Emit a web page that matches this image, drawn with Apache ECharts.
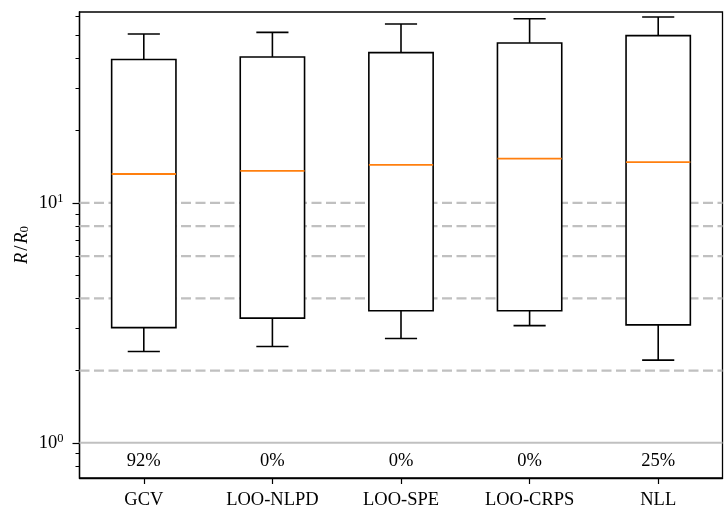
<!DOCTYPE html>
<html>
<head>
<meta charset="utf-8">
<script src="https://cdn.jsdelivr.net/npm/echarts@6/dist/echarts.min.js"></script>
<style>html,body{margin:0;padding:0;background:#fff}#c{width:724px;height:510px}</style>
</head>
<body>
<div id="c"></div>
<script>
const categories = ['GCV', 'LOO-NLPD', 'LOO-SPE', 'LOO-CRPS', 'NLL'];
const whiskerLow = [2.40, 2.52, 2.72, 3.08, 2.21];
const q1 = [3.02, 3.31, 3.55, 3.55, 3.10];
const medians = [13.2, 13.6, 14.4, 15.3, 14.8];
const q3 = [39.6, 40.6, 42.3, 46.4, 49.8];
const whiskerHigh = [50.6, 51.4, 55.7, 58.6, 59.6];
const percentLabels = ['92%', '0%', '0%', '0%', '25%'];
const dashedRefs = [2, 4, 6, 8, 10];
const solidRefs = [1];
const majorTicks = [1, 10];
const minorTicks = [0.8, 0.9, 2, 3, 4, 5, 6, 7, 8, 9, 20, 30, 40, 50, 60];

const FONT = "'Liberation Serif', 'DejaVu Serif', serif";
const FS = 18.5;
const Y_MIN = 0.713, Y_MAX = 62.5;
const LABEL_Y = 0.835;

const chart = echarts.init(document.getElementById('c'), null, {renderer: 'canvas'});

function refLine(color, dash) {
  return function (params, api) {
    const y = api.coord([0, api.value(1)])[1];
    const cs = params.coordSys;
    return {
      type: 'line',
      shape: {x1: cs.x, y1: y, x2: cs.x + cs.width, y2: y},
      style: {stroke: color, lineWidth: 2.2, lineDash: dash}
    };
  };
}

const option = {
  animation: false,
  backgroundColor: '#fff',
  grid: {left: 79.5, right: 1.5, top: 12, bottom: 31, show: true, borderColor: '#000', borderWidth: 1.3, backgroundColor: 'transparent'},
  xAxis: {
    type: 'category',
    data: categories,
    axisLine: {show: true, lineStyle: {color: '#000', width: 1.3}},
    axisTick: {show: true, alignWithLabel: true, length: 6, lineStyle: {color: '#000', width: 1.2}},
    axisLabel: {color: '#000', fontFamily: FONT, fontSize: FS, margin: 13},
    splitLine: {show: false}
  },
  yAxis: [
    {
      type: 'log', logBase: 10, min: Y_MIN, max: Y_MAX,
      name: '{i|R}{n|/}{i|R}{sub|0}',
      nameLocation: 'middle', nameGap: 48, nameMoveOverlap: false,
      nameTextStyle: {
        color: '#000', fontFamily: FONT, fontSize: FS,
        rich: {
          i: {fontFamily: FONT, fontSize: FS, fontStyle: 'italic', color: '#000'},
          n: {fontFamily: FONT, fontSize: FS, color: '#000', padding: [0, 2, 0, 2]},
          sub: {fontFamily: FONT, fontSize: 13, color: '#000', verticalAlign: 'bottom', padding: [6, 0, 0, 0]}
        }
      },
      axisLine: {show: true, lineStyle: {color: '#000', width: 1.3}},
      axisTick: {show: true, length: 7, customValues: majorTicks, lineStyle: {color: '#000', width: 1.2}},
      axisLabel: {
        customValues: majorTicks,
        margin: 16,
        formatter: function (v) { return '{b|10}{s|' + Math.round(Math.log10(v)) + '}'; },
        rich: {
          b: {fontFamily: FONT, fontSize: FS, color: '#000', lineHeight: 22},
          s: {fontFamily: FONT, fontSize: 12.5, color: '#000', verticalAlign: 'top', lineHeight: 12}
        }
      },
      splitLine: {show: false}
    },
    {
      type: 'log', logBase: 10, min: Y_MIN, max: Y_MAX, position: 'left',
      axisLine: {show: false},
      axisTick: {show: true, length: 4, customValues: minorTicks, lineStyle: {color: '#000', width: 1}},
      axisLabel: {show: false},
      splitLine: {show: false}
    }
  ],
  series: [
    {
      type: 'custom', z: 1, silent: true,
      data: dashedRefs.map(v => [0, v]),
      encode: {x: 0, y: 1},
      renderItem: refLine('#c0c0c0', [10, 4.5])
    },
    {
      type: 'custom', z: 1, silent: true,
      data: solidRefs.map(v => [0, v]),
      encode: {x: 0, y: 1},
      renderItem: refLine('#c0c0c0', null)
    },
    {
      type: 'custom', z: 3, silent: true,
      data: categories.map((c, i) => [i, whiskerLow[i], q1[i], medians[i], q3[i], whiskerHigh[i]]),
      encode: {x: 0, y: [1, 2, 3, 4, 5]},
      renderItem: function (params, api) {
        const i = api.value(0);
        const bw = params.coordSys.width / categories.length * 0.5;
        const cx = api.coord([i, 1])[0];
        const yLo = api.coord([i, api.value(1)])[1];
        const yQ1 = api.coord([i, api.value(2)])[1];
        const yMed = api.coord([i, api.value(3)])[1];
        const yQ3 = api.coord([i, api.value(4)])[1];
        const yHi = api.coord([i, api.value(5)])[1];
        const ls = {stroke: '#000', lineWidth: 1.6};
        return {
          type: 'group',
          children: [
            {type: 'line', shape: {x1: cx, y1: yQ1, x2: cx, y2: yLo}, style: ls},
            {type: 'line', shape: {x1: cx - bw / 4, y1: yLo, x2: cx + bw / 4, y2: yLo}, style: ls},
            {type: 'line', shape: {x1: cx, y1: yQ3, x2: cx, y2: yHi}, style: ls},
            {type: 'line', shape: {x1: cx - bw / 4, y1: yHi, x2: cx + bw / 4, y2: yHi}, style: ls},
            {type: 'rect', shape: {x: cx - bw / 2, y: yQ3, width: bw, height: yQ1 - yQ3}, style: {fill: '#fff', stroke: '#000', lineWidth: 1.6}},
            {type: 'line', shape: {x1: cx - bw / 2, y1: yMed, x2: cx + bw / 2, y2: yMed}, style: {stroke: '#ff7f0e', lineWidth: 1.8}}
          ]
        };
      }
    },
    {
      type: 'custom', z: 4, silent: true,
      data: percentLabels.map((t, i) => [i, LABEL_Y]),
      encode: {x: 0, y: 1},
      renderItem: function (params, api) {
        const p = api.coord([api.value(0), api.value(1)]);
        return {
          type: 'text',
          style: {
            text: percentLabels[params.dataIndex],
            x: p[0], y: p[1],
            textAlign: 'center', textVerticalAlign: 'middle',
            align: 'center', verticalAlign: 'middle',
            font: FS + 'px ' + FONT, fill: '#000'
          }
        };
      }
    }
  ]
};
chart.setOption(option);
</script>
</body>
</html>
